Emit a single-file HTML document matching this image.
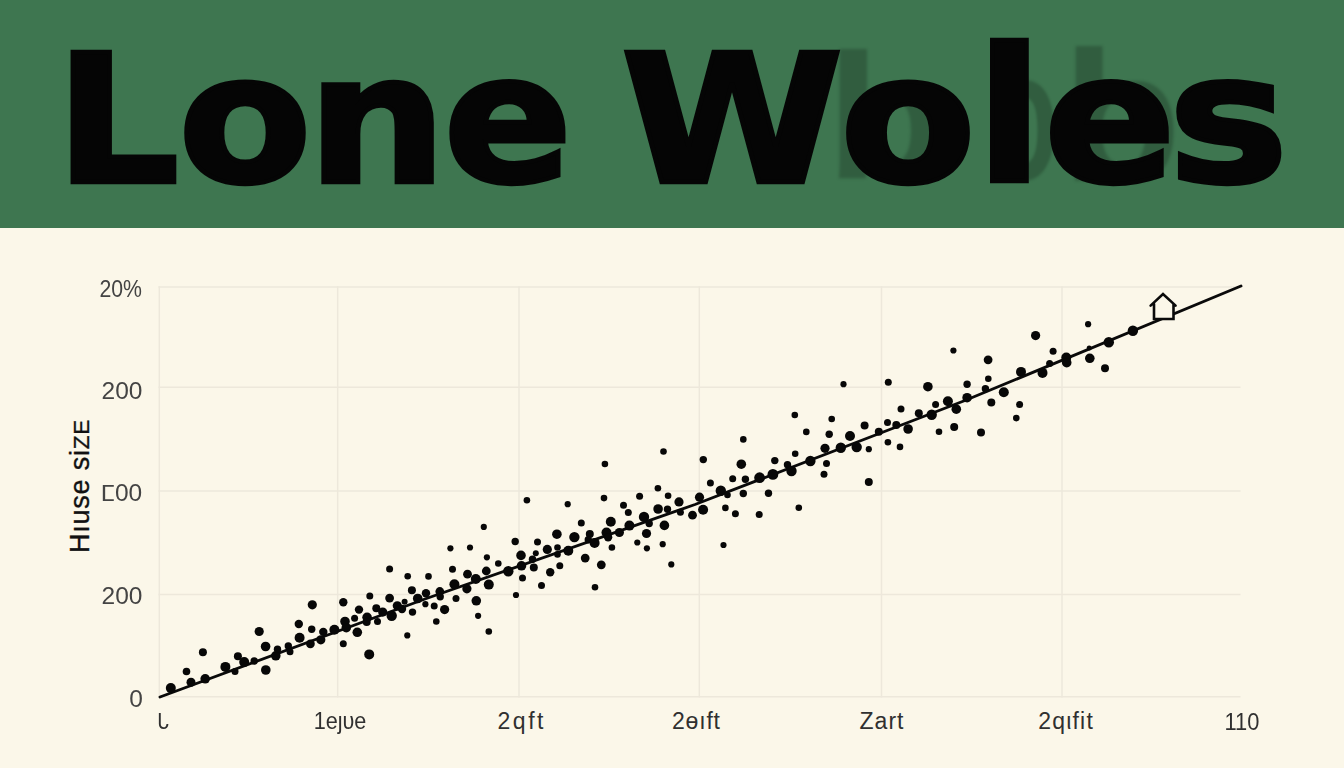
<!DOCTYPE html>
<html lang="en"><head><meta charset="utf-8"><title>Lone Woles</title>
<style>
html,body{margin:0;padding:0}
body{width:1344px;height:768px;overflow:hidden;background:#fbf7e9;position:relative;font-family:"Liberation Sans",sans-serif}
#banner{position:absolute;left:0;top:0;width:1344px;height:228px;background:#3e7650;overflow:hidden}
#title{position:absolute;left:0;top:0;margin:0;font-size:0;line-height:0}
#title span{position:absolute;left:0;top:0;display:block;font-family:"DejaVu Sans","Liberation Sans",sans-serif;font-weight:bold;font-size:186.5px;line-height:1;color:#050505;-webkit-text-stroke:4.5px #050505;transform-origin:0 0;white-space:pre}
.ghost{position:absolute;left:0;top:0;display:block;font-family:"Liberation Sans",sans-serif;font-weight:bold;font-size:180px;line-height:1;color:rgba(10,25,15,.26);filter:blur(1.6px);transform-origin:0 0}
#chart{position:absolute;left:0;top:0}
.yt{position:absolute;right:1201.5px;font-size:23px;line-height:24px;color:#444444;white-space:nowrap;transform:scaleX(1.065);transform-origin:100% 50%}
.br{font-family:"DejaVu Sans","Liberation Sans",sans-serif;font-size:22px}
.xt{position:absolute;top:708.5px;box-sizing:border-box;width:120px;margin-left:-60px;text-align:center;font-size:23px;line-height:24px;color:#303030;white-space:nowrap}
#ylab{position:absolute;left:80px;top:486px;width:0;height:0}
#ylab span.l{position:absolute;display:block;white-space:nowrap;transform:translate(-50%,-50%) rotate(-90deg);font-size:27px;line-height:1;color:#111;letter-spacing:.75px;-webkit-text-stroke:.35px #111}
#ylab small{font-size:22.5px}
</style></head><body>
<div id="banner">
<span class="ghost" style="transform:translate(825.8px,27.24px) scale(1.1087,0.9886)">b</span><span class="ghost" style="transform:translate(988.55px,23.89px) scale(0.6354,1.0202)">o</span><span class="ghost" style="transform:translate(1062.04px,24.36px) scale(1.087,1.0303)">b</span>
<h1 id="title"><span style="transform:translate(54.94px,31.26px) scale(1.0462,0.9576)">L</span><span style="transform:translate(178.27px,30.48px) scale(1.0424,0.9601)">o</span><span style="transform:translate(307.14px,31.02px) scale(1.0511,0.959)">n</span><span style="transform:translate(443.62px,30.86px) scale(1.0182,0.9577)">e</span><span style="transform:translate(570px,31px)"> </span><span style="transform:translate(620.68px,31.55px) scale(1.0826,0.9557)">W</span><span style="transform:translate(840.11px,30.48px) scale(1.0617,0.9601)">o</span><span style="transform:translate(975.98px,24.81px) scale(1.0449,0.995)">l</span><span style="transform:translate(1043.98px,30.86px) scale(1.0423,0.9577)">e</span><span style="transform:translate(1168.19px,30.86px) scale(1.0831,0.9577)">s</span></h1>
</div>
<svg id="chart" width="1344" height="768" viewBox="0 0 1344 768">
<g stroke="#ede8db" stroke-width="1.5" fill="none"><line x1="159.3" y1="286.3" x2="159.3" y2="697.5"/><line x1="337.7" y1="286.3" x2="337.7" y2="697.5"/><line x1="519" y1="286.3" x2="519" y2="697.5"/><line x1="699.3" y1="286.3" x2="699.3" y2="697.5"/><line x1="881.5" y1="286.3" x2="881.5" y2="697.5"/><line x1="1062" y1="286.3" x2="1062" y2="697.5"/><line x1="158.5" y1="287" x2="1240.5" y2="287"/><line x1="158.5" y1="387.3" x2="1240.5" y2="387.3"/><line x1="158.5" y1="491" x2="1240.5" y2="491"/><line x1="158.5" y1="594.5" x2="1240.5" y2="594.5"/><line x1="158.5" y1="696.8" x2="1240.5" y2="696.8"/></g>
<path d="M160 697 L425 599 L695 504.5 L965 400.5 L1241 286" stroke="#0a0a0a" stroke-width="2.9" fill="none" stroke-linecap="round" stroke-linejoin="round"/>
<g fill="#070707"><circle cx="170.8" cy="688.1" r="5"/><circle cx="186.5" cy="671.5" r="3.8"/><circle cx="191" cy="682.3" r="4.5"/><circle cx="202.9" cy="652.3" r="4"/><circle cx="205.2" cy="678.8" r="4.8"/><circle cx="225.4" cy="666.9" r="5"/><circle cx="235" cy="671.5" r="3.5"/><circle cx="237.9" cy="656.3" r="4"/><circle cx="244.2" cy="662.1" r="5"/><circle cx="254.2" cy="661" r="3.7"/><circle cx="259.2" cy="631.5" r="4.6"/><circle cx="265.6" cy="646.5" r="4.8"/><circle cx="265.8" cy="670" r="4.8"/><circle cx="275.8" cy="655.8" r="4.8"/><circle cx="277.5" cy="649.2" r="3.7"/><circle cx="288.3" cy="646" r="3.7"/><circle cx="290" cy="651.7" r="3.5"/><circle cx="298.8" cy="624" r="4.2"/><circle cx="299.6" cy="637.7" r="5"/><circle cx="310.4" cy="643.8" r="4.4"/><circle cx="311.7" cy="629.2" r="3.7"/><circle cx="312.3" cy="604.8" r="4.6"/><circle cx="320.8" cy="639.8" r="4.6"/><circle cx="323.3" cy="631.9" r="4.2"/><circle cx="334.4" cy="629.8" r="5"/><circle cx="343.3" cy="602.3" r="4.2"/><circle cx="343.3" cy="643.8" r="3.5"/><circle cx="345" cy="621.5" r="4.8"/><circle cx="346.3" cy="627.7" r="4.8"/><circle cx="354.6" cy="618.3" r="3.5"/><circle cx="357.3" cy="632.3" r="4.8"/><circle cx="359" cy="609.6" r="4.2"/><circle cx="367.1" cy="617.3" r="4.8"/><circle cx="366.7" cy="622" r="4"/><circle cx="369.2" cy="654.4" r="5"/><circle cx="369.8" cy="596" r="3.5"/><circle cx="376.3" cy="608.3" r="4"/><circle cx="377.5" cy="621.5" r="3.5"/><circle cx="382.7" cy="612.1" r="4.6"/><circle cx="389.6" cy="569" r="3.5"/><circle cx="389.6" cy="598.1" r="4.4"/><circle cx="391.7" cy="615.8" r="5.2"/><circle cx="397.3" cy="605.8" r="4.6"/><circle cx="402" cy="609" r="4.2"/><circle cx="404.6" cy="601.7" r="3"/><circle cx="407.3" cy="635.4" r="3.1"/><circle cx="407.7" cy="576.3" r="3.3"/><circle cx="411.9" cy="590.2" r="4"/><circle cx="412.5" cy="612.1" r="3.7"/><circle cx="417.7" cy="598.5" r="4.8"/><circle cx="426" cy="593.3" r="4.2"/><circle cx="425.4" cy="604.2" r="3.1"/><circle cx="428.5" cy="576.4" r="3.3"/><circle cx="434.2" cy="606" r="3.5"/><circle cx="436.3" cy="621.5" r="3.3"/><circle cx="439.8" cy="591.5" r="4.4"/><circle cx="440.2" cy="596.7" r="3.7"/><circle cx="444.6" cy="609.6" r="4.6"/><circle cx="450.4" cy="548.3" r="3.1"/><circle cx="452.5" cy="569.2" r="3.5"/><circle cx="454.4" cy="584.2" r="5"/><circle cx="456" cy="598.5" r="3.5"/><circle cx="466.9" cy="588.8" r="4.6"/><circle cx="467.5" cy="574.2" r="4.4"/><circle cx="470" cy="547.5" r="3.1"/><circle cx="475.8" cy="579" r="5"/><circle cx="476.3" cy="600.8" r="4.8"/><circle cx="478.1" cy="615.8" r="3.1"/><circle cx="483.8" cy="526.9" r="3.1"/><circle cx="486.3" cy="571" r="4.4"/><circle cx="486.9" cy="557.3" r="3.1"/><circle cx="488.8" cy="584.6" r="5"/><circle cx="498.3" cy="563.5" r="3.3"/><circle cx="508.3" cy="571.3" r="5.2"/><circle cx="515.2" cy="541.5" r="3.7"/><circle cx="516" cy="595" r="3.1"/><circle cx="521" cy="555.4" r="4.8"/><circle cx="521.5" cy="565.8" r="4.8"/><circle cx="522.5" cy="578.1" r="3.5"/><circle cx="526.9" cy="500.2" r="3.3"/><circle cx="532.5" cy="559.2" r="3.7"/><circle cx="533.8" cy="567.5" r="4"/><circle cx="535.8" cy="553.3" r="3"/><circle cx="537.5" cy="542.1" r="3.5"/><circle cx="541.5" cy="585.6" r="3.5"/><circle cx="547.3" cy="549.4" r="4.6"/><circle cx="550.2" cy="572.3" r="4.2"/><circle cx="556.9" cy="534.2" r="4.8"/><circle cx="557.5" cy="547.5" r="3.3"/><circle cx="557.5" cy="554.4" r="3.3"/><circle cx="559.8" cy="565.8" r="3.5"/><circle cx="567.7" cy="504.2" r="3.1"/><circle cx="568.3" cy="550.8" r="5"/><circle cx="574.4" cy="537.1" r="5.2"/><circle cx="581.3" cy="523.1" r="3.5"/><circle cx="585.2" cy="558.1" r="4.4"/><circle cx="589.8" cy="534" r="4"/><circle cx="588.3" cy="539.8" r="3.7"/><circle cx="594.6" cy="542.9" r="5"/><circle cx="595" cy="587.3" r="3.3"/><circle cx="601.3" cy="564.8" r="4.4"/><circle cx="604" cy="498.1" r="3.3"/><circle cx="606.5" cy="532.5" r="5"/><circle cx="608.1" cy="537.3" r="4.2"/><circle cx="610.8" cy="521.7" r="5"/><circle cx="611.9" cy="547.5" r="3.3"/><circle cx="619.4" cy="532.5" r="4.6"/><circle cx="623.5" cy="505.2" r="3.5"/><circle cx="628.3" cy="512.5" r="3.5"/><circle cx="629.4" cy="525.6" r="5"/><circle cx="637.3" cy="542.5" r="3.1"/><circle cx="639.6" cy="496.3" r="3.5"/><circle cx="644" cy="516.9" r="5.2"/><circle cx="646.5" cy="533.5" r="4.6"/><circle cx="646.9" cy="548.3" r="3.1"/><circle cx="649.2" cy="523.5" r="3.7"/><circle cx="657.9" cy="488.3" r="3.3"/><circle cx="658.1" cy="509" r="4.8"/><circle cx="662.7" cy="544.2" r="3.1"/><circle cx="664.4" cy="525.4" r="4.8"/><circle cx="667.5" cy="509.2" r="3.7"/><circle cx="668.1" cy="495.8" r="3.3"/><circle cx="671.3" cy="564.4" r="3.1"/><circle cx="679" cy="501.9" r="4.6"/><circle cx="680.4" cy="512.3" r="3.5"/><circle cx="692.5" cy="515.2" r="4.4"/><circle cx="699.5" cy="497.2" r="4.6"/><circle cx="488.8" cy="631.5" r="3.3"/><circle cx="703.1" cy="509.8" r="5"/><circle cx="703.3" cy="459.6" r="3.7"/><circle cx="710.4" cy="482.9" r="3.5"/><circle cx="720.8" cy="490.8" r="5.2"/><circle cx="725.4" cy="507.9" r="3.3"/><circle cx="727.5" cy="495" r="3.3"/><circle cx="732.7" cy="478.8" r="3.5"/><circle cx="735.4" cy="513.8" r="3.5"/><circle cx="741.3" cy="464.2" r="4.8"/><circle cx="743.3" cy="439.4" r="3.3"/><circle cx="743.3" cy="493.5" r="3.7"/><circle cx="745.4" cy="479.2" r="3.7"/><circle cx="759.2" cy="514.4" r="3.5"/><circle cx="759.6" cy="477.7" r="5.4"/><circle cx="768.5" cy="493.3" r="3.7"/><circle cx="772.9" cy="474.4" r="5.4"/><circle cx="774.8" cy="460.6" r="3.7"/><circle cx="787.5" cy="464.8" r="3.7"/><circle cx="791.5" cy="471" r="5.2"/><circle cx="794.8" cy="415" r="3.3"/><circle cx="795.2" cy="453.8" r="3.3"/><circle cx="798.8" cy="507.7" r="3.3"/><circle cx="806.3" cy="431.9" r="3.3"/><circle cx="810.4" cy="461" r="5.2"/><circle cx="824" cy="474.2" r="3.5"/><circle cx="825" cy="448.3" r="4.6"/><circle cx="826.5" cy="463.5" r="3.5"/><circle cx="829.2" cy="434.2" r="3.7"/><circle cx="831.7" cy="419" r="3.3"/><circle cx="840.8" cy="447.7" r="5.2"/><circle cx="843.5" cy="384.2" r="3.1"/><circle cx="850" cy="436" r="5"/><circle cx="856.7" cy="447.1" r="5.2"/><circle cx="864.6" cy="425.6" r="4"/><circle cx="868.8" cy="449.2" r="3.1"/><circle cx="868.8" cy="482.1" r="4"/><circle cx="878.8" cy="431.7" r="4"/><circle cx="887.5" cy="422.5" r="3.5"/><circle cx="887.9" cy="442.3" r="3.3"/><circle cx="888.3" cy="382.3" r="3.5"/><circle cx="896.3" cy="425" r="4"/><circle cx="900" cy="446.9" r="3.3"/><circle cx="901" cy="409" r="3.5"/><circle cx="908.1" cy="429" r="4.8"/><circle cx="918.8" cy="413.3" r="4"/><circle cx="927.9" cy="386.7" r="4.8"/><circle cx="931.7" cy="414.8" r="5.2"/><circle cx="935.6" cy="404.4" r="3.5"/><circle cx="939" cy="431.7" r="3.3"/><circle cx="947.9" cy="401.3" r="5"/><circle cx="954.2" cy="426.9" r="4"/><circle cx="956.3" cy="409.2" r="4.8"/><circle cx="967.1" cy="384.2" r="3.7"/><circle cx="967.1" cy="397.7" r="4.8"/><circle cx="723.5" cy="545" r="3.1"/><circle cx="985.4" cy="388.8" r="3.7"/><circle cx="988.1" cy="359.8" r="4.4"/><circle cx="988.3" cy="378.8" r="3.3"/><circle cx="991.3" cy="402.5" r="4"/><circle cx="1003.8" cy="392.3" r="5"/><circle cx="1016.3" cy="418.1" r="3.3"/><circle cx="1019.6" cy="404.6" r="3.5"/><circle cx="1021" cy="371.9" r="5"/><circle cx="1035.6" cy="335.6" r="4.6"/><circle cx="1042.5" cy="372.9" r="5"/><circle cx="1049.6" cy="363.5" r="3.5"/><circle cx="1053.1" cy="351.3" r="3.5"/><circle cx="1066.3" cy="357.5" r="5"/><circle cx="1066.7" cy="362.7" r="4.8"/><circle cx="1088.1" cy="324.2" r="3.1"/><circle cx="1089.2" cy="348.1" r="2.5"/><circle cx="1089.8" cy="358.3" r="4.8"/><circle cx="1105" cy="368.3" r="4"/><circle cx="1108.8" cy="342.3" r="5.2"/><circle cx="1132.9" cy="330.8" r="5.2"/><circle cx="981" cy="432.5" r="4"/><circle cx="604.9" cy="464" r="3.3"/><circle cx="663.5" cy="451.5" r="3.3"/><circle cx="953.4" cy="350.5" r="3.1"/></g>
<path d="M1150.6 305.6 L1163 294 L1175.6 305.6 M1154 304 L1154 319 L1173.5 319 L1173.5 304" fill="#fbf7e9" stroke="#0a0a0a" stroke-width="2.6" stroke-linejoin="miter" stroke-linecap="round"/>
</svg>
<div class="yt" style="top:276.5px;transform:scaleX(.925)">20%</div>
<div class="yt" style="top:379px">200</div>
<div class="yt" style="top:481px"><span class="br">ⵎ</span>00</div>
<div class="yt" style="top:584px">200</div>
<div class="yt" style="top:686.5px">0</div>
<div id="ylab"><span class="l">Hıuse si<small>ZE</small></span></div>
<div class="xt" style="left:162.5px;font-family:'DejaVu Sans','Liberation Sans',sans-serif;font-size:22.5px;transform:scaleX(.85)">ᒐ</div>
<div class="xt" style="left:340px;transform:scaleX(.94)">1eȷυe</div>
<div class="xt" style="left:520.5px;letter-spacing:2.5px;padding-left:2.5px">2qft</div>
<div class="xt" style="left:696px;letter-spacing:.8px;padding-left:.8px">2ɵıft</div>
<div class="xt" style="left:881.5px;letter-spacing:1px;padding-left:1px">Zart</div>
<div class="xt" style="left:1065.5px;letter-spacing:1.2px;padding-left:1.2px">2qιfit</div>
<div class="xt" style="left:1241.5px;top:709.5px;transform:scaleX(.95)">110</div>
</body></html>
